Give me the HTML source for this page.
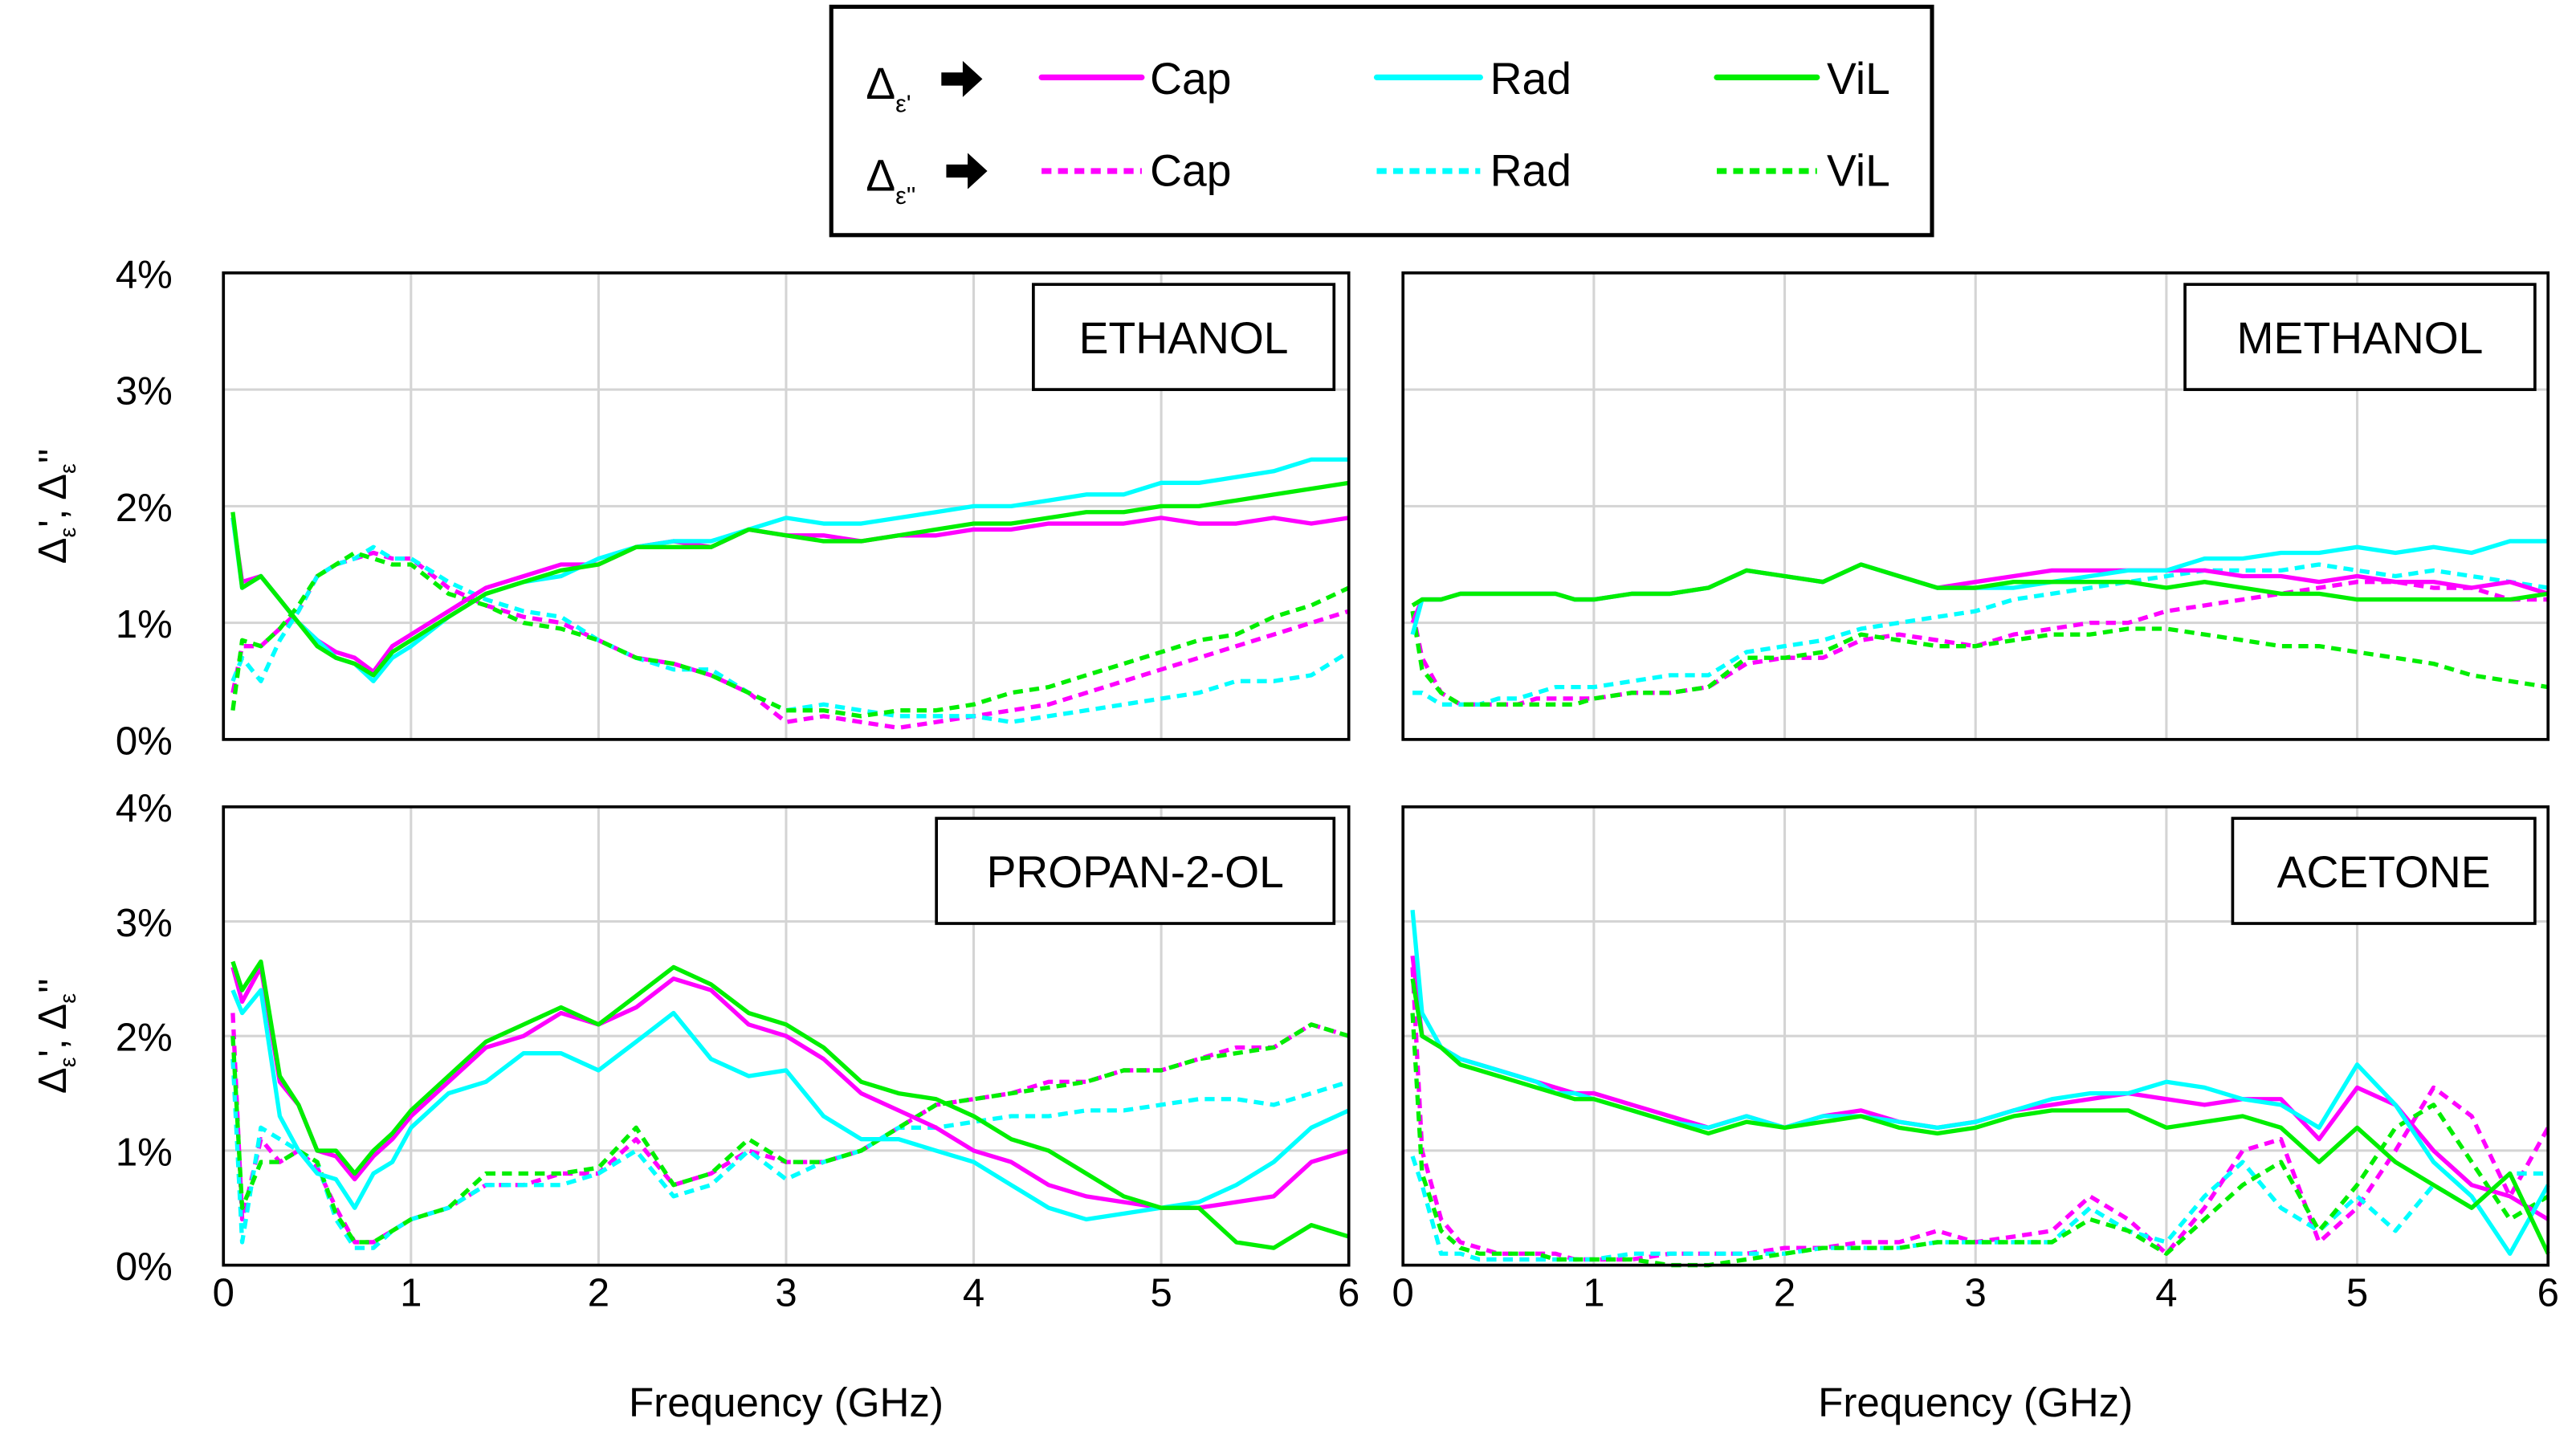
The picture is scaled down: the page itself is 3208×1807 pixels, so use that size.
<!DOCTYPE html>
<html><head><meta charset="utf-8"><style>
html,body{margin:0;padding:0;background:#fff}
svg{display:block}
text{font-family:"Liberation Sans","DejaVu Sans",sans-serif;fill:#000}
</style></head><body>
<svg id="chart" width="3208" height="1807" viewBox="0 0 1568 883" xmlns="http://www.w3.org/2000/svg">
<g>
<rect x="506" y="4" width="670" height="139" fill="#fff" stroke="#000" stroke-width="2.5"/>
<text x="527" y="60" font-size="27">Δ<tspan font-size="15" dy="8">ε'</tspan></text>
<text x="527" y="116" font-size="27">Δ<tspan font-size="15" dy="8">ε''</tspan></text>
<polygon points="573,44 586,44 586,37 598,48 586,59 586,52 573,52" fill="#000"/>
<polygon points="576,100 589,100 589,93 601,104 589,115 589,108 576,108" fill="#000"/>
<line x1="634" y1="47" x2="695" y2="47" stroke="#ff00ff" stroke-width="3.5" stroke-linecap="round"/>
<line x1="838" y1="47" x2="901" y2="47" stroke="#00ffff" stroke-width="3.5" stroke-linecap="round"/>
<line x1="1045" y1="47" x2="1106" y2="47" stroke="#00ee00" stroke-width="3.5" stroke-linecap="round"/>
<line x1="634" y1="104" x2="695" y2="104" stroke="#ff00ff" stroke-width="3.5" stroke-dasharray="6,4"/>
<line x1="838" y1="104" x2="901" y2="104" stroke="#00ffff" stroke-width="3.5" stroke-dasharray="6,4"/>
<line x1="1045" y1="104" x2="1106" y2="104" stroke="#00ee00" stroke-width="3.5" stroke-dasharray="6,4"/>
<text x="700" y="57" font-size="27">Cap</text><text x="907" y="57" font-size="27">Rad</text><text x="1112" y="57" font-size="27">ViL</text>
<text x="700" y="113" font-size="27">Cap</text><text x="907" y="113" font-size="27">Rad</text><text x="1112" y="113" font-size="27">ViL</text>
</g>
</svg>
<script>
const freq=[0.05,0.1,0.2,0.3,0.4,0.5,0.6,0.7,0.8,0.9,1.0,1.2,1.4,1.6,1.8,2.0,2.2,2.4,2.6,2.8,3.0,3.2,3.4,3.6,3.8,4.0,4.2,4.4,4.6,4.8,5.0,5.2,5.4,5.6,5.8,6.0];
const yTicks=["0%","1%","2%","3%","4%"];
const xTicks=["0","1","2","3","4","5","6"];
const ethCapS=[1.9,1.35,1.4,1.2,1.0,0.85,0.75,0.7,0.58,0.8,0.9,1.1,1.3,1.4,1.5,1.5,1.65,1.7,1.65,1.8,1.75,1.75,1.7,1.75,1.75,1.8,1.8,1.85,1.85,1.85,1.9,1.85,1.85,1.9,1.85,1.9];
const ethRadS=[1.9,1.3,1.4,1.2,1.0,0.85,0.7,0.65,0.5,0.7,0.8,1.05,1.25,1.35,1.4,1.55,1.65,1.7,1.7,1.8,1.9,1.85,1.85,1.9,1.95,2.0,2.0,2.05,2.1,2.1,2.2,2.2,2.25,2.3,2.4,2.4];
const ethVilS=[1.95,1.3,1.4,1.2,1.0,0.8,0.7,0.65,0.55,0.75,0.85,1.05,1.25,1.35,1.45,1.5,1.65,1.65,1.65,1.8,1.75,1.7,1.7,1.75,1.8,1.85,1.85,1.9,1.95,1.95,2.0,2.0,2.05,2.1,2.15,2.2];
const ethCapD=[0.4,0.8,0.8,0.95,1.1,1.4,1.5,1.55,1.6,1.55,1.55,1.3,1.15,1.05,1.0,0.85,0.7,0.65,0.55,0.4,0.15,0.2,0.15,0.1,0.15,0.2,0.25,0.3,0.4,0.5,0.6,0.7,0.8,0.9,1.0,1.1];
const ethRadD=[0.5,0.7,0.5,0.85,1.1,1.4,1.5,1.55,1.65,1.55,1.55,1.35,1.2,1.1,1.05,0.85,0.7,0.6,0.6,0.4,0.25,0.3,0.25,0.2,0.2,0.2,0.15,0.2,0.25,0.3,0.35,0.4,0.5,0.5,0.55,0.75];
const ethVilD=[0.25,0.85,0.8,0.95,1.15,1.4,1.5,1.6,1.55,1.5,1.5,1.25,1.15,1.0,0.95,0.85,0.7,0.65,0.55,0.4,0.25,0.25,0.2,0.25,0.25,0.3,0.4,0.45,0.55,0.65,0.75,0.85,0.9,1.05,1.15,1.3];
const metCapS=[1.0,1.2,1.2,1.25,1.25,1.25,1.25,1.25,1.25,1.2,1.2,1.25,1.25,1.3,1.45,1.4,1.35,1.5,1.4,1.3,1.35,1.4,1.45,1.45,1.45,1.45,1.45,1.4,1.4,1.35,1.4,1.35,1.35,1.3,1.35,1.25];
const metRadS=[0.9,1.2,1.2,1.25,1.25,1.25,1.25,1.25,1.25,1.2,1.2,1.25,1.25,1.3,1.45,1.4,1.35,1.5,1.4,1.3,1.3,1.3,1.35,1.4,1.45,1.45,1.55,1.55,1.6,1.6,1.65,1.6,1.65,1.6,1.7,1.7];
const metVilS=[1.15,1.2,1.2,1.25,1.25,1.25,1.25,1.25,1.25,1.2,1.2,1.25,1.25,1.3,1.45,1.4,1.35,1.5,1.4,1.3,1.3,1.35,1.35,1.35,1.35,1.3,1.35,1.3,1.25,1.25,1.2,1.2,1.2,1.2,1.2,1.25];
const metCapD=[1.1,0.7,0.4,0.3,0.3,0.3,0.3,0.35,0.35,0.35,0.35,0.4,0.4,0.45,0.65,0.7,0.7,0.85,0.9,0.85,0.8,0.9,0.95,1.0,1.0,1.1,1.15,1.2,1.25,1.3,1.35,1.35,1.3,1.3,1.2,1.2];
const metRadD=[0.4,0.4,0.3,0.3,0.3,0.35,0.35,0.4,0.45,0.45,0.45,0.5,0.55,0.55,0.75,0.8,0.85,0.95,1.0,1.05,1.1,1.2,1.25,1.3,1.35,1.4,1.45,1.45,1.45,1.5,1.45,1.4,1.45,1.4,1.35,1.3];
const metVilD=[1.1,0.6,0.4,0.3,0.3,0.3,0.3,0.3,0.3,0.3,0.35,0.4,0.4,0.45,0.7,0.7,0.75,0.9,0.85,0.8,0.8,0.85,0.9,0.9,0.95,0.95,0.9,0.85,0.8,0.8,0.75,0.7,0.65,0.55,0.5,0.45];
const proCapS=[2.6,2.3,2.6,1.6,1.4,1.0,0.95,0.75,0.95,1.1,1.3,1.6,1.9,2.0,2.2,2.1,2.25,2.5,2.4,2.1,2.0,1.8,1.5,1.35,1.2,1.0,0.9,0.7,0.6,0.55,0.5,0.5,0.55,0.6,0.9,1.0];
const proRadS=[2.4,2.2,2.4,1.3,1.0,0.8,0.75,0.5,0.8,0.9,1.2,1.5,1.6,1.85,1.85,1.7,1.95,2.2,1.8,1.65,1.7,1.3,1.1,1.1,1.0,0.9,0.7,0.5,0.4,0.45,0.5,0.55,0.7,0.9,1.2,1.35];
const proVilS=[2.65,2.4,2.65,1.65,1.4,1.0,1.0,0.8,1.0,1.15,1.35,1.65,1.95,2.1,2.25,2.1,2.35,2.6,2.45,2.2,2.1,1.9,1.6,1.5,1.45,1.3,1.1,1.0,0.8,0.6,0.5,0.5,0.2,0.15,0.35,0.25];
const proCapD=[2.2,0.4,1.1,0.9,1.0,0.85,0.5,0.2,0.2,0.3,0.4,0.5,0.7,0.7,0.8,0.8,1.1,0.7,0.8,1.0,0.9,0.9,1.0,1.2,1.4,1.45,1.5,1.6,1.6,1.7,1.7,1.8,1.9,1.9,2.1,2.0];
const proRadD=[1.8,0.2,1.2,1.1,1.0,0.9,0.4,0.15,0.15,0.3,0.4,0.5,0.7,0.7,0.7,0.8,1.0,0.6,0.7,1.0,0.75,0.9,1.0,1.2,1.2,1.25,1.3,1.3,1.35,1.35,1.4,1.45,1.45,1.4,1.5,1.6];
const proVilD=[2.0,0.5,0.9,0.9,1.0,0.9,0.45,0.2,0.2,0.3,0.4,0.5,0.8,0.8,0.8,0.85,1.2,0.7,0.8,1.1,0.9,0.9,1.0,1.2,1.4,1.45,1.5,1.55,1.6,1.7,1.7,1.8,1.85,1.9,2.1,2.0];
const aceCapS=[2.7,2.0,1.9,1.8,1.75,1.7,1.65,1.6,1.55,1.5,1.5,1.4,1.3,1.2,1.3,1.2,1.3,1.35,1.25,1.2,1.25,1.35,1.4,1.45,1.5,1.45,1.4,1.45,1.45,1.1,1.55,1.4,1.0,0.7,0.6,0.4];
const aceRadS=[3.1,2.2,1.9,1.8,1.75,1.7,1.65,1.6,1.5,1.5,1.45,1.35,1.25,1.2,1.3,1.2,1.3,1.3,1.25,1.2,1.25,1.35,1.45,1.5,1.5,1.6,1.55,1.45,1.4,1.2,1.75,1.4,0.9,0.6,0.1,0.7];
const aceVilS=[2.5,2.0,1.9,1.75,1.7,1.65,1.6,1.55,1.5,1.45,1.45,1.35,1.25,1.15,1.25,1.2,1.25,1.3,1.2,1.15,1.2,1.3,1.35,1.35,1.35,1.2,1.25,1.3,1.2,0.9,1.2,0.9,0.7,0.5,0.8,0.1];
const aceCapD=[2.6,1.0,0.4,0.2,0.15,0.1,0.1,0.1,0.1,0.05,0.05,0.05,0.1,0.1,0.1,0.15,0.15,0.2,0.2,0.3,0.2,0.25,0.3,0.6,0.4,0.1,0.5,1.0,1.1,0.2,0.5,1.0,1.55,1.3,0.6,1.2];
const aceRadD=[0.95,0.7,0.1,0.1,0.05,0.05,0.05,0.05,0.05,0.05,0.05,0.1,0.1,0.1,0.1,0.1,0.15,0.15,0.15,0.2,0.2,0.2,0.2,0.5,0.3,0.2,0.6,0.9,0.5,0.3,0.6,0.3,0.7,0.5,0.8,0.8];
const aceVilD=[2.2,0.8,0.3,0.15,0.1,0.1,0.1,0.1,0.05,0.05,0.05,0.05,0.0,0.0,0.05,0.1,0.15,0.15,0.15,0.2,0.2,0.2,0.2,0.4,0.3,0.1,0.4,0.7,0.9,0.3,0.7,1.2,1.4,0.9,0.4,0.6];

const NS="http://www.w3.org/2000/svg";
const svg=document.getElementById('chart');
function mk(tag,attrs,parent){const e=document.createElementNS(NS,tag);for(const k in attrs)e.setAttribute(k,attrs[k]);(parent||svg).appendChild(e);return e;}
const panels=[
 {name:'ethanol',label:'ETHANOL',x0:136,x1:821,y0:166,y1:450,lb:[629,173,183,64],yl:true,xl:false,s:[ethCapD,ethRadD,ethVilD,ethCapS,ethRadS,ethVilS]},
 {name:'methanol',label:'METHANOL',x0:854,x1:1551,y0:166,y1:450,lb:[1330,173,213,64],yl:false,xl:false,s:[metCapD,metRadD,metVilD,metCapS,metRadS,metVilS]},
 {name:'propan-2-ol',label:'PROPAN-2-OL',x0:136,x1:821,y0:491,y1:770,lb:[570,498,242,64],yl:true,xl:true,s:[proCapD,proRadD,proVilD,proCapS,proRadS,proVilS]},
 {name:'acetone',label:'ACETONE',x0:854,x1:1551,y0:491,y1:770,lb:[1359,498,184,64],yl:false,xl:true,s:[aceCapD,aceRadD,aceVilD,aceCapS,aceRadS,aceVilS]}
];
const colors=['#ff00ff','#00ffff','#00ee00','#ff00ff','#00ffff','#00ee00'];
const snames=['cap-dashed','rad-dashed','vil-dashed','cap-solid','rad-solid','vil-solid'];
panels.forEach(p=>{
 const g=mk('g',{});
 
 
 const xs=v=>p.x0+(p.x1-p.x0)*v/6;
 const ys=v=>p.y1-(p.y1-p.y0)*v/4;
 for(let i=1;i<6;i++){const l=mk('line',{x1:xs(i),x2:xs(i),y1:p.y0,y2:p.y1,stroke:'#d4d4d4','stroke-width':1.5},g);}
 for(let i=1;i<4;i++){const l=mk('line',{x1:p.x0,x2:p.x1,y1:ys(i),y2:ys(i),stroke:'#d4d4d4','stroke-width':1.5},g);}
 p.s.forEach((arr,si)=>{
  const d=arr.map((v,i)=>(i?'L':'M')+xs(freq[i]).toFixed(1)+','+ys(v).toFixed(1)).join('');
  const a={d:d,fill:'none',stroke:colors[si],'stroke-width':2.6,'stroke-linejoin':'round'};
  if(si<3)a['stroke-dasharray']='6,4';
  const path=mk('path',a,g);
  
  
 });
 const fr=mk('rect',{x:p.x0,y:p.y0,width:p.x1-p.x0,height:p.y1-p.y0,fill:'none',stroke:'#000','stroke-width':1.8},g);
 
 
 const lb=mk('rect',{x:p.lb[0],y:p.lb[1],width:p.lb[2],height:p.lb[3],fill:'#fff',stroke:'#000','stroke-width':1.8},g);
 
 
 const lt=mk('text',{x:p.lb[0]+p.lb[2]/2,y:p.lb[1]+42,'font-size':27,'text-anchor':'middle'},g);
 lt.textContent=p.label;
 
 
 if(p.yl){
  yTicks.forEach((t,i)=>{const tt=mk('text',{x:105,y:ys(i)+9,'font-size':24,'text-anchor':'end'},g);tt.textContent=t;});
  const cy=(p.y0+p.y1)/2;
  const yt=mk('text',{x:0,y:0,'font-size':24,'text-anchor':'middle',transform:'translate(40,'+cy+') rotate(-90)'},g);
  yt.innerHTML='Δ<tspan font-size="14" dy="6">ε</tspan><tspan dy="-6">\', Δ</tspan><tspan font-size="14" dy="6">ε</tspan><tspan dy="-6">\'\'</tspan>';
  
  
 }
 if(p.xl){
  xTicks.forEach((t,i)=>{const tt=mk('text',{x:xs(i),y:795,'font-size':24,'text-anchor':'middle'},g);tt.textContent=t;});
  const xt=mk('text',{x:(p.x0+p.x1)/2,y:862,'font-size':25,'text-anchor':'middle'},g);
  xt.textContent='Frequency (GHz)';
  
  
 }
});
</script>
</body></html>
